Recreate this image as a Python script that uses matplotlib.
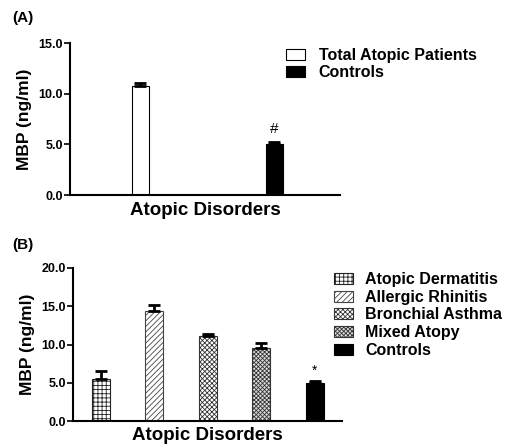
import matplotlib
matplotlib.use("Agg")
import matplotlib.pyplot as plt
from matplotlib.patches import Patch

plt.rcParams['font.family'] = ['Liberation Sans', 'DejaVu Sans']
plt.rcParams['font.weight'] = 'bold'
plt.rcParams['hatch.linewidth'] = 0.6

# Panel A data
a_groups = ["Total Atopic Patients", "Controls"]
a_values = [10.8, 5.0]
a_errors = [0.3, 0.25]
a_ticks = [0, 5, 10, 15]

# Panel B data
b_groups = ["Atopic Dermatitis", "Allergic Rhinitis", "Bronchial Asthma", "Mixed Atopy", "Controls"]
b_values = [5.5, 14.4, 11.1, 9.5, 5.0]
b_errors = [1.0, 0.8, 0.25, 0.75, 0.2]
b_ticks = [0, 5, 10, 15, 20]

fig = plt.figure(figsize=(5.13, 4.46), dpi=100)

def style(ax, ticks, xpad):
    for s in ['top', 'right']:
        ax.spines[s].set_visible(False)
    for s in ['left', 'bottom']:
        ax.spines[s].set_linewidth(1.5)
    ax.set_yticks(ticks)
    ax.set_yticklabels([f"{t:.1f}" for t in ticks], fontsize=9, fontweight='bold')
    ax.set_ylim(ticks[0], ticks[-1])
    ax.set_xticks([])
    ax.tick_params(axis='y', direction='out', length=4, width=1.2, pad=1)
    ax.set_xlabel("Atopic Disorders", fontsize=13.5, fontweight='bold', labelpad=xpad)
    ax.set_ylabel("MBP (ng/ml)", fontsize=12.5, fontweight='bold', labelpad=5)

# ---- Panel A ----
axA = fig.add_axes([70/513, 1-195/446, 270/513, 152/446])
xa = [1, 2]
fillsA = ['white', 'black']
axA.bar(xa, a_values, width=0.127, color=fillsA, edgecolor='black', linewidth=0.8,
        yerr=[[0]*2, a_errors], capsize=4, error_kw=dict(elinewidth=2, capthick=2, ecolor='black'))
axA.set_xlim(0.473, 2.493)
style(axA, a_ticks, 5)
axA.text(xa[1], a_values[1] + a_errors[1] + 0.6, "#", ha='center', va='bottom', fontsize=11, fontweight='normal')
fig.legend(handles=[Patch(facecolor=c, edgecolor='black', linewidth=0.8, label=l) for c, l in zip(fillsA, a_groups)],
           loc='upper left', bbox_to_anchor=(286/513, 1-48/446), frameon=False,
           handlelength=1.2, handleheight=0.7, handletextpad=0.85, labelspacing=0.15, borderpad=0,
           borderaxespad=0, prop=dict(weight='bold', size=11.5))
fig.text(12/513, 1-18/446, "(A)", fontsize=11, fontweight='bold', va='center', ha='left')

# ---- Panel B ----
axB = fig.add_axes([73/513, 1-421/446, 269/513, 153/446])
xb = [1, 2, 3, 4, 5]
hatches = ['++++', '//////', 'xxxxxxx', 'xxxxxxxx', '']
facesB = ['white', 'white', 'white', '#dddddd', 'black']
edgesB = ['#222222', '#444444', '#333333', '#333333', 'black']
for x, v, e, h, fc, ec in zip(xb, b_values, b_errors, hatches, facesB, edgesB):
    axB.bar(x, v, width=0.34, color=fc, edgecolor=ec, hatch=h, linewidth=0.8,
            yerr=[[0], [e]], capsize=4, error_kw=dict(elinewidth=2, capthick=2, ecolor='black'))
axB.set_xlim(0.476, 5.513)
style(axB, b_ticks, 4)
axB.text(xb[4], b_values[4] + b_errors[4] + 0.4, "*", ha='center', va='bottom', fontsize=10, fontweight='normal')
fig.legend(handles=[Patch(facecolor=fc, edgecolor=ec, hatch=h, linewidth=0.8, label=l)
                    for fc, ec, h, l in zip(facesB, edgesB, hatches, b_groups)],
           loc='upper left', bbox_to_anchor=(334/513, 1-272/446), frameon=False,
           handlelength=1.2, handleheight=0.7, handletextpad=0.75, labelspacing=0.17, borderpad=0,
           borderaxespad=0, prop=dict(weight='bold', size=11.5))
fig.text(12/513, 1-245/446, "(B)", fontsize=11, fontweight='bold', va='center', ha='left')

fig.savefig("out.png", dpi=100)
